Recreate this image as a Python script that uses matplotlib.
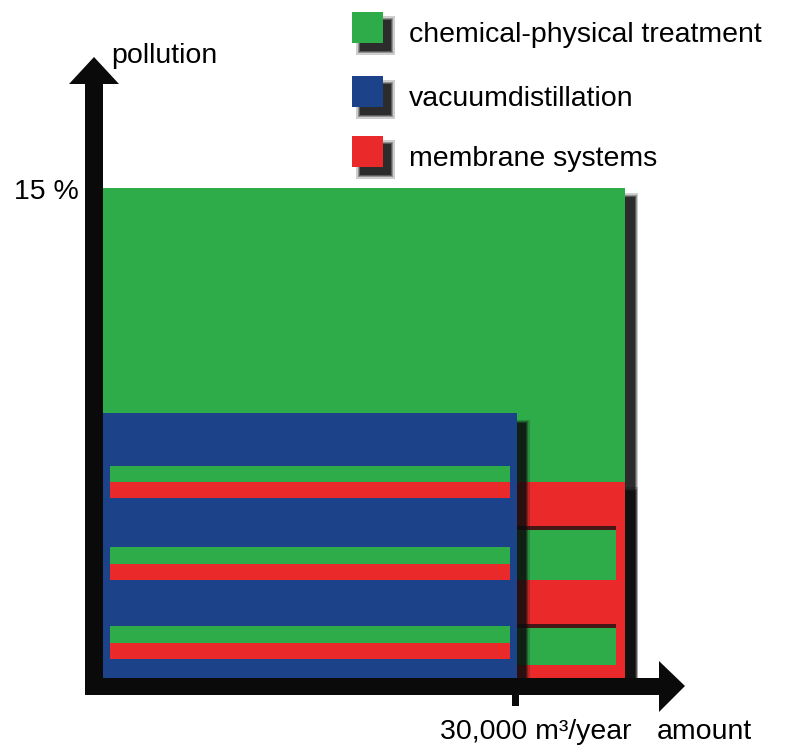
import matplotlib
matplotlib.use("Agg")
import matplotlib.pyplot as plt
from matplotlib.patches import Rectangle, Polygon

plt.rcParams["font.family"] = ["Liberation Sans", "DejaVu Sans"]

# ---- data (amount in 1000 m3/year, pollution in %) ----
methods = ["chemical-physical treatment", "vacuumdistillation", "membrane systems"]
colors = ["#2eac4a", "#1c4389", "#ea2a2a"]
amount_max = [38.0, 30.15, 38.0]     # right edge of each area
pollution_max = [15.0, 8.1, 6.0]     # top edge of each area
membrane_from = 30.15                # membrane area visible right of vacuum box

# green/red stripes inside the vacuum box (bottom of red, stripe height)
stripe_base = [5.5, 3.0, 0.58]
stripe_h = 0.5
stripe_x = [0.5, 29.6]

# green windows inside the membrane frame (y from, y to)
window_y = [(3.0, 4.65), (0.4, 1.65)]
window_xr = 37.35

tick_amount = 30.0
top_level = 15.0

# ---- pixel layout helpers ----
W, H = 787, 747
SX = 30.0 / 412   # units per pixel
SY = 15.0 / 490
X0, Y0 = 103, 678  # origin in pixels


def px(x):
    return (x - X0) * SX


def py(y):
    return (Y0 - y) * SY


fig = plt.figure(figsize=(W / 100, H / 100), dpi=100)
ax = fig.add_axes([0, 0, 1, 1])
ax.set_xlim(px(0), px(W))
ax.set_ylim(py(H), py(0))
ax.axis("off")


def shadow(x0, y0, w, h, dx=10, dy=9, z=1):
    # soft dark drop shadow, offset right/down
    for k, a in enumerate([0.2, 0.3, 0.4, 0.6]):
        g = (3 - k) * 1.2
        ax.add_patch(Rectangle((x0 + dx * SX - g * SX, y0 - dy * SY - g * SY),
                               w + 2 * g * SX, h + 2 * g * SY,
                               fc="#0c0c0c", ec="none", alpha=a, zorder=z))


def box(x0, y0, w, h, c, z):
    ax.add_patch(Rectangle((x0, y0), w, h, fc=c, ec="none", zorder=z))


# chemical-physical area
shadow(0, 0, amount_max[0], pollution_max[0], z=1)
box(0, 0, amount_max[0], pollution_max[0], colors[0], 2)

# membrane area (frame with green windows)
shadow(membrane_from, 0, amount_max[2] - membrane_from, pollution_max[2], z=3)
box(membrane_from, 0, amount_max[2] - membrane_from, pollution_max[2], colors[2], 4)
for y_a, y_b in window_y:
    ax.add_patch(Rectangle((membrane_from, y_b - 4 * SY), window_xr - membrane_from, 4 * SY,
                           fc="#111111", ec="none", alpha=0.75, zorder=5))
    box(membrane_from, y_a, window_xr - membrane_from, y_b - y_a - 4 * SY, colors[0], 5)

# vacuum distillation area
shadow(0, 0, amount_max[1], pollution_max[1], dx=9, dy=10, z=6)
box(0, 0, amount_max[1], pollution_max[1], colors[1], 7)
for b in stripe_base:
    box(stripe_x[0], b, stripe_x[1] - stripe_x[0], stripe_h, colors[2], 8)
    box(stripe_x[0], b + stripe_h, stripe_x[1] - stripe_x[0], stripe_h, colors[0], 8)

# ---- axes drawn as thick arrows ----
ax.add_patch(Rectangle((px(85), py(695)), px(103) - px(85), py(83) - py(695),
                       fc="#0a0a0a", ec="none", zorder=10))
ax.add_patch(Polygon([(px(69), py(84)), (px(94), py(57)), (px(119), py(84))],
                     fc="#0a0a0a", ec="none", zorder=10))
ax.add_patch(Rectangle((px(85), py(695)), px(660) - px(85), py(678) - py(695),
                       fc="#0a0a0a", ec="none", zorder=10))
ax.add_patch(Polygon([(px(659), py(661)), (px(685), py(686)), (px(659), py(712))],
                     fc="#0a0a0a", ec="none", zorder=10))
ax.add_patch(Rectangle((tick_amount - 3 * SX, py(706)), 7 * SX, py(694) - py(706),
                       fc="#0a0a0a", ec="none", zorder=10))

fs = 20.5
ax.text(px(111), py(63), "pollution", fontsize=fs, va="baseline", ha="left")
ax.text(px(14), top_level - 11 * SY, "15 %", fontsize=fs, va="baseline", ha="left")
ax.text(px(440), py(739), "30,000 m³/year", fontsize=fs, va="baseline", ha="left")
ax.text(px(657), py(739), "amount", fontsize=fs, va="baseline", ha="left")

# ---- legend ----
leg_top = [12, 76, 136]
leg_base = [42, 106, 166]
for name, c, t, b in zip(methods, colors, leg_top, leg_base):
    shadow(px(352), py(t + 31), 31 * SX, 31 * SY, dx=8, dy=8, z=1)
    box(px(352), py(t + 31), 31 * SX, 31 * SY, c, 2)
    ax.text(px(409), py(b), name, fontsize=fs, va="baseline", ha="left")

fig.savefig("out.png", dpi=100)
